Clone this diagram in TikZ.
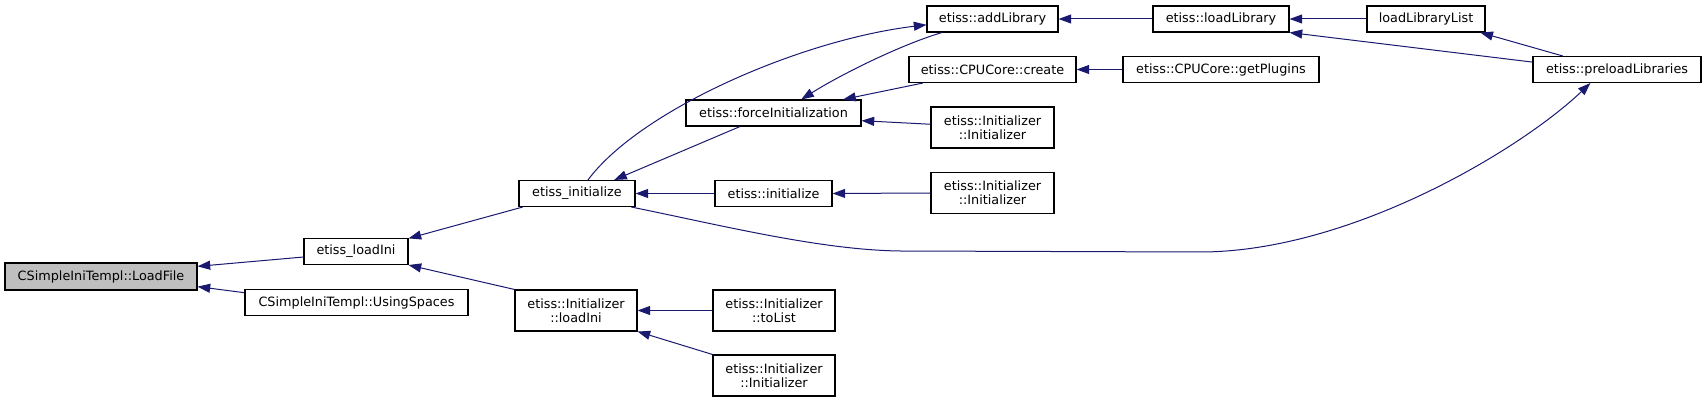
\documentclass[tikz,border=0pt]{standalone}
\usepackage{fontspec}
\setmainfont{DejaVu Sans}
\usetikzlibrary{arrows.meta}
\definecolor{dxnavy}{HTML}{191970}
\definecolor{dxgrey}{HTML}{BFBFBF}
\tikzset{
  fn/.style={draw=black,fill=white,line width=0.8pt,align=center,inner sep=2pt,
             minimum height=19.5pt,font=\fontsize{9.6}{10.5}\selectfont},
  fntwo/.style={fn,minimum height=30.75pt},
  fnhl/.style={fn,fill=dxgrey,minimum height=20.25pt},
  call/.style={<-,>={Triangle[length=9.5pt,width=6.75pt]},draw=dxnavy,line width=0.75pt},
}
\begin{document}
\begin{tikzpicture}[x=0.75pt,y=-0.75pt]
    \useasboundingbox (0,0) rectangle (1705,402);
    % first column
    \node[fnhl,minimum width=144pt] (loadfile) at (101,276.5) {CSimpleIniTempl::LoadFile};
    \node[fn,minimum width=78pt] (loadini) at (356,251.5) {etiss\_loadIni};
    \node[fn,minimum width=167.25pt] (usingsp) at (356.5,302.5) {CSimpleIniTempl::UsingSpaces};
    \node[fn,minimum width=87pt] (etinit) at (577,193.5) {etiss\_initialize};
    \node[fntwo,minimum width=91.5pt] (iloadini) at (576,310.5) {etiss::Initializer\\::loadIni};
    % middle
    \node[fn,minimum width=131.25pt] (force) at (773.5,113) {etiss::forceInitialization};
    \node[fn,minimum width=87.75pt] (einit) at (773.5,193.5) {etiss::initialize};
    \node[fntwo,minimum width=91.5pt] (tolist) at (774,310.5) {etiss::Initializer\\::toList};
    \node[fntwo,minimum width=91.5pt] (iinit3) at (774,375.5) {etiss::Initializer\\::Initializer};
    \node[fn,minimum width=98.25pt] (addlib) at (992.5,19) {etiss::addLibrary};
    \node[fn,minimum width=125.25pt] (create) at (992.5,69.5) {etiss::CPUCore::create};
    \node[fntwo,minimum width=92.25pt] (iinit1) at (992.5,127.5) {etiss::Initializer\\::Initializer};
    \node[fntwo,minimum width=92.25pt] (iinit2) at (992.5,193) {etiss::Initializer\\::Initializer};
    % right
    \node[fn,minimum width=102pt] (loadlib) at (1221,19) {etiss::loadLibrary};
    \node[fn,minimum width=147pt] (getplug) at (1221,69.5) {etiss::CPUCore::getPlugins};
    \node[fn,minimum width=88.5pt] (lllist) at (1426,19) {loadLibraryList};
    \node[fn,minimum width=126pt] (preload) at (1617,69.5) {etiss::preloadLibraries};
    % straight calls
    \foreach \a/\b in {loadfile.6/loadini.186,loadfile.-6/usingsp.175,
        loadini.14/etinit.194,loadini.south east/iloadini.north west,
        etinit.20/force.202,etinit.east/einit.west,
        force.11/create.191,force.-5/iinit1.177,
        einit.east/iinit2.west,iloadini.east/tolist.west,
        iloadini.south east/iinit3.north west,
        addlib.east/loadlib.west,create.east/getplug.west,
        loadlib.east/lllist.west,loadlib.south east/preload.175,
        lllist.-14/preload.166}
      \draw[call] (\a) -- (\b);
    % curved calls
    \draw[call] (addlib.185) .. controls (800,40) and (640,110) .. (etinit.51);
    \draw[call] (force.26) .. controls (840,75) and (900,45) .. (addlib.195);
    \draw[call] (preload.207) .. controls (1520,150) and (1350,252) .. (1200,252)
      -- (900,251) .. controls (820,250) and (720,225) .. (etinit.-14);
  \end{tikzpicture}
\end{document}
